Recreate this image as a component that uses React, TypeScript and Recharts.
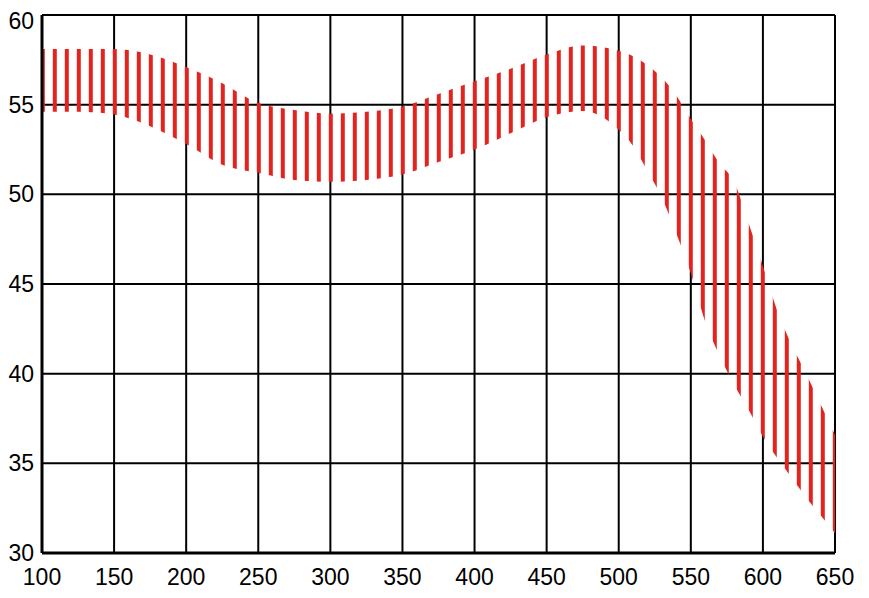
import { AreaChart, Area, CartesianGrid, XAxis, YAxis } from "recharts";

// x positions (denser where the band drops fast)
const xValues = [
  100, 125, 150, 175, 200, 225, 250, 275, 300, 325, 350, 375, 400, 425, 450,
  475, 500, 510, 520, 530, 540, 550, 560, 570, 580, 590, 600, 610, 620, 630,
  640, 650,
];

const upperValues = [
  58.1, 58.1, 58.1, 57.8, 57.1, 56.2, 55.1, 54.7, 54.5, 54.6, 54.9, 55.6, 56.3,
  57.0, 57.8, 58.3, 58.0, 57.7, 57.2, 56.5, 55.5, 54.2, 53.0, 51.7, 50.7, 48.4,
  46.0, 43.5, 41.6, 40.0, 38.3, 36.6,
];

const lowerValues = [
  54.6, 54.6, 54.45, 53.8, 52.8, 51.65, 51.2, 50.8, 50.7, 50.8, 51.1, 51.8,
  52.5, 53.4, 54.3, 54.65, 53.6, 52.7, 51.3, 49.8, 47.8, 45.6, 42.9, 41.0, 39.4,
  38.0, 36.5, 35.3, 34.2, 33.1, 32.1, 31.1,
];

const xTicks = [100, 150, 200, 250, 300, 350, 400, 450, 500, 550, 600, 650];
const yTicks = [30, 35, 40, 45, 50, 55, 60];

const data = xValues.map((x, i) => ({
  x,
  band: [lowerValues[i], upperValues[i]],
}));

const FONT = "'Liberation Sans', Arial, sans-serif";

const tickStyle = {
  fill: "#000",
  fontSize: 23,
  fontFamily: FONT,
};

// top label sits a little below its gridline in the original
function YTick(props: any) {
  const { x, y, payload } = props;
  const shift = payload.value === 60 ? 6 : 0;
  return (
    <text
      x={x}
      y={y + shift}
      dy="0.355em"
      textAnchor="end"
      fill="#000"
      fontSize={23}
      fontFamily={FONT}
    >
      {payload.value}
    </text>
  );
}

export default function App() {
  return (
    <div style={{ width: 869, height: 598 }}>
      <style>{`body { margin: 0; }`}</style>
      <AreaChart
        width={869}
        height={598}
        data={data}
        margin={{ top: 15, right: 34, left: 0, bottom: 0 }}
      >
        <defs>
          <pattern
            id="stripes"
            patternUnits="userSpaceOnUse"
            x={40.8}
            y={0}
            width={12}
            height={20}
          >
            <rect x={0} y={0} width={4} height={20} fill="#e3231f" />
          </pattern>
        </defs>
        <CartesianGrid stroke="#000" strokeWidth={2} strokeOpacity={1} />
        <XAxis
          dataKey="x"
          type="number"
          domain={[100, 650]}
          ticks={xTicks}
          tick={tickStyle}
          tickLine={false}
          tickMargin={10}
          height={45}
          axisLine={{ stroke: "#000", strokeWidth: 3 }}
        />
        <YAxis
          domain={[30, 60]}
          ticks={yTicks}
          tick={<YTick />}
          tickLine={false}
          width={42}
          axisLine={{ stroke: "#000", strokeWidth: 3 }}
        />
        <Area
          type="monotone"
          dataKey="band"
          stroke="none"
          fill="url(#stripes)"
          fillOpacity={1}
          dot={false}
          activeDot={false}
          isAnimationActive={false}
        />
      </AreaChart>
    </div>
  );
}
